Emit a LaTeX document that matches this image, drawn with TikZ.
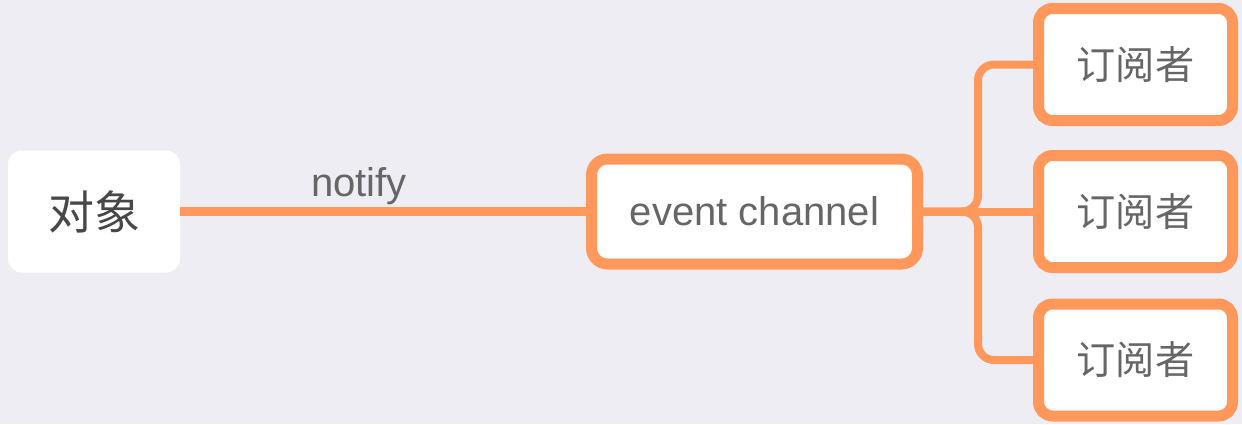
\documentclass[tikz,border=0pt]{standalone}
\usepackage{fontspec}
\setmainfont{Liberation Sans}
\newfontfamily\cjk{Noto Sans CJK SC}
\usetikzlibrary{positioning}
\definecolor{bgcol}{RGB}{238,237,243}
\definecolor{linecol}{RGB}{255,152,90}
\definecolor{txtcol}{RGB}{102,102,102}
\tikzset{
  subbox/.style={draw=linecol, line width=5.5pt, fill=white, rounded corners=7pt,
    minimum width=97pt, minimum height=56pt, text=txtcol,
    font=\cjk\fontsize{19.6}{19.6}\selectfont},
  link/.style={draw=linecol, line width=4pt},
}
\begin{document}
\begin{tikzpicture}[x=0.5pt,y=-0.5pt]
\fill[bgcol] (0,0) rectangle (1242,424);
\useasboundingbox (0,0) rectangle (1242,424);

\node[fill=white, rounded corners=7pt, minimum width=86pt, minimum height=61pt,
  text=black!72, font=\cjk\fontsize{23}{23}\selectfont] (obj) at (94,211.5) {对象};

\node[draw=linecol, line width=5.5pt, fill=white, rounded corners=8pt,
  minimum width=163pt, minimum height=52.5pt, text=txtcol,
  font=\fontsize{20}{20}\selectfont] (chan) at (754.5,211.5) {event channel};

\node[subbox] (sub1) at (1135.5,64.5) {订阅者};
\node[subbox] (sub2) at (1135.5,211.5) {订阅者};
\node[subbox] (sub3) at (1135.5,360) {订阅者};

\draw[draw=linecol, line width=4.5pt] (obj.east) to node[above, pos=0.44, inner sep=1pt,
  text=txtcol, font=\fontsize{20}{20}\selectfont] {notify} (obj.east -| chan.west);

\coordinate (fork) at (978,211.5);
\draw[link] (chan.east) -- (sub2.west);
\draw[link, rounded corners=8pt] (chan.east) -- (fork) |- (sub1.west);
\draw[link, rounded corners=8pt] (chan.east) -- (fork) |- (sub3.west);
\end{tikzpicture}
\end{document}
